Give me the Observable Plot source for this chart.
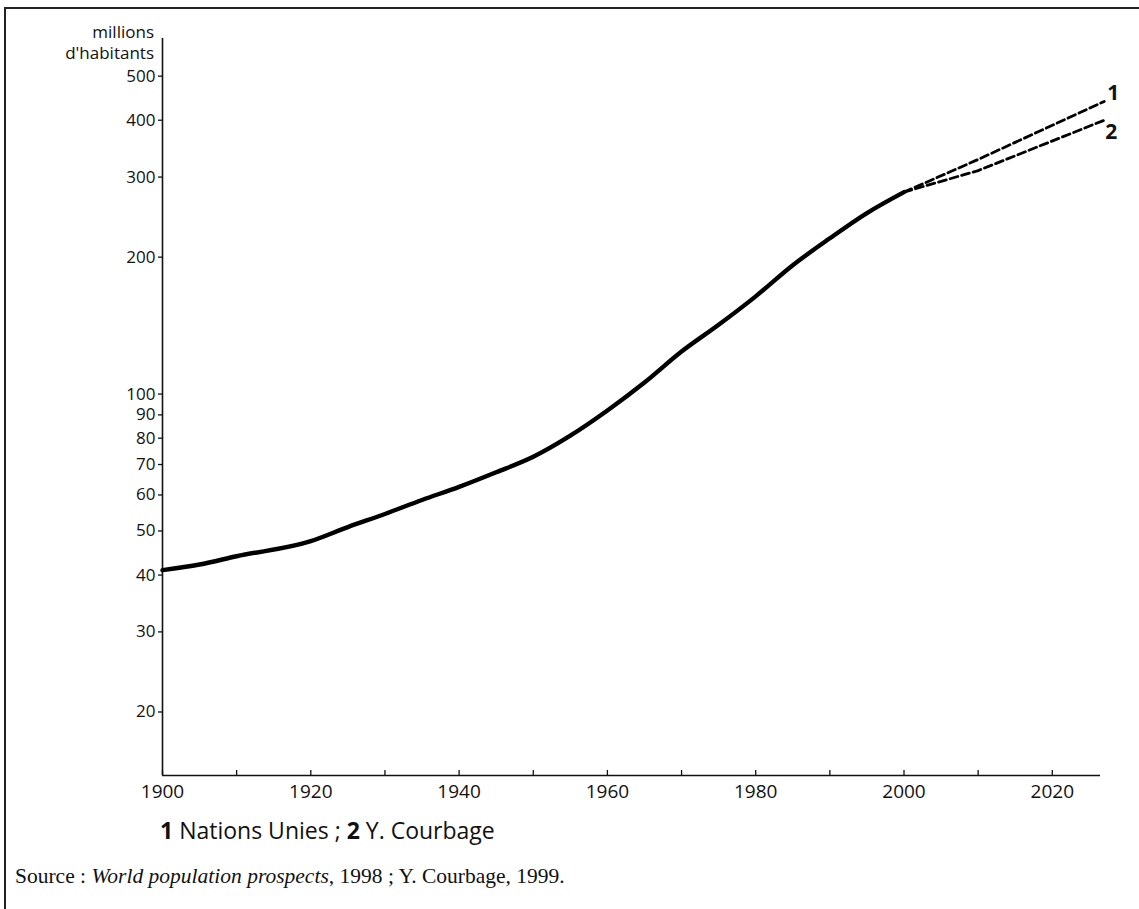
<!DOCTYPE html>
<html>
<head>
<meta charset="utf-8">
<script src="https://cdn.jsdelivr.net/npm/d3@7"></script>
<script src="https://cdn.jsdelivr.net/npm/@observablehq/plot@0.6"></script>
<style>
  html, body { margin: 0; padding: 0; background: #fff; }
  #page { position: relative; width: 1139px; height: 909px; overflow: hidden; font-family: "Open Sans", "Noto Sans", sans-serif; color: #111; }
  #frame { position: absolute; left: 4px; top: 7px; width: 1200px; height: 1000px; border-top: 2px solid #222; border-left: 2px solid #222; }
  #chart { position: absolute; left: 0; top: 0; }
  #ylabel { position: absolute; left: 0; top: 21px; width: 154px; text-align: right; font-size: 17px; line-height: 21px; }
  #legend { position: absolute; left: 160px; top: 815px; font-size: 23px; line-height: 30px; }
  #source { position: absolute; left: 15px; top: 863px; font-family: "Liberation Serif", "DejaVu Serif", serif; font-size: 21.5px; line-height: 26px; }
</style>
</head>
<body>
<div id="page">
  <div id="frame"></div>
  <div id="chart"></div>
  <div id="ylabel">millions<br>d'habitants</div>
  <div id="legend"><b>1</b> Nations Unies ; <b>2</b> Y. Courbage</div>
  <div id="source">Source : <i>World population prospects</i>, 1998 ; Y. Courbage, 1999.</div>
</div>
<script>
// Observed population (millions)
const years = [1900, 1905, 1910, 1920, 1925, 1930, 1935, 1940, 1945, 1950, 1955, 1960, 1965, 1970, 1975, 1980, 1985, 1990, 1995, 2000];
const population = [41, 42.2, 44, 47.5, 51, 54.5, 58.5, 62.5, 67.3, 72.8, 81, 92, 106, 124, 142, 164, 192, 220, 250, 278];

// Projections
const projYears = [2000, 2010, 2027];
const projUN = [278, 328, 440];        // 1 Nations Unies
const projCourbage = [278, 310, 400];  // 2 Y. Courbage

const xTickLabels = [1900, 1920, 1940, 1960, 1980, 2000, 2020];
const xTickMarks = [1900, 1910, 1920, 1930, 1940, 1950, 1960, 1970, 1980, 1990, 2000, 2010, 2020];
const yTickLabels = [20, 30, 40, 50, 60, 70, 80, 90, 100, 200, 300, 400, 500];

const observed = years.map((x, i) => ({x, y: population[i]}));
const p1 = projYears.map((x, i) => ({x, y: projUN[i]}));
const p2 = projYears.map((x, i) => ({x, y: projCourbage[i]}));

const xMin = 1900, xMax = 2026.5, yMin = 14.5, yMax = 605;
const font = '"Open Sans", "Noto Sans", sans-serif';

const chart = Plot.plot({
  width: 1139,
  height: 805,
  marginLeft: 162,
  marginRight: 39,
  marginTop: 38,
  marginBottom: 30,
  style: {fontFamily: font, fontSize: "18px", color: "#111", background: "transparent"},
  x: {domain: [xMin, xMax]},
  y: {type: "log", domain: [yMin, yMax]},
  marks: [
    Plot.axisY({ticks: yTickLabels, tickSize: 4, tickFormat: () => "", label: null, strokeWidth: 1.3}),
    Plot.text(yTickLabels, {x: xMin, y: d => d, text: d => String(d), dx: -7, textAnchor: "end", fontSize: 17, fill: "#111"}),
    Plot.axisX({ticks: xTickMarks, tickSize: -5, tickFormat: () => "", label: null, strokeWidth: 1.3}),
    Plot.axisX({ticks: xTickLabels, tickSize: 0, tickPadding: 9, tickFormat: d => String(d), fontSize: 19, label: null}),
    Plot.ruleX([xMin], {stroke: "#111", strokeWidth: 1.6}),
    Plot.ruleY([yMin], {stroke: "#111", strokeWidth: 1.6}),
    Plot.line(observed, {x: "x", y: "y", stroke: "#000", strokeWidth: 4.4, curve: "monotone-x"}),
    Plot.line(p1, {x: "x", y: "y", stroke: "#000", strokeWidth: 2.8, strokeDasharray: "8,4", clip: false}),
    Plot.line(p2, {x: "x", y: "y", stroke: "#000", strokeWidth: 2.8, strokeDasharray: "8,4", clip: false}),
    Plot.text([p1[p1.length - 1]], {x: "x", y: "y", text: () => "1", dx: 9, dy: -8, fontWeight: "bold", fontSize: 21, textAnchor: "middle"}),
    Plot.text([p2[p2.length - 1]], {x: "x", y: "y", text: () => "2", dx: 7, dy: 12, fontWeight: "bold", fontSize: 21, textAnchor: "middle"})
  ]
});
document.getElementById("chart").appendChild(chart);
</script>
</body>
</html>
